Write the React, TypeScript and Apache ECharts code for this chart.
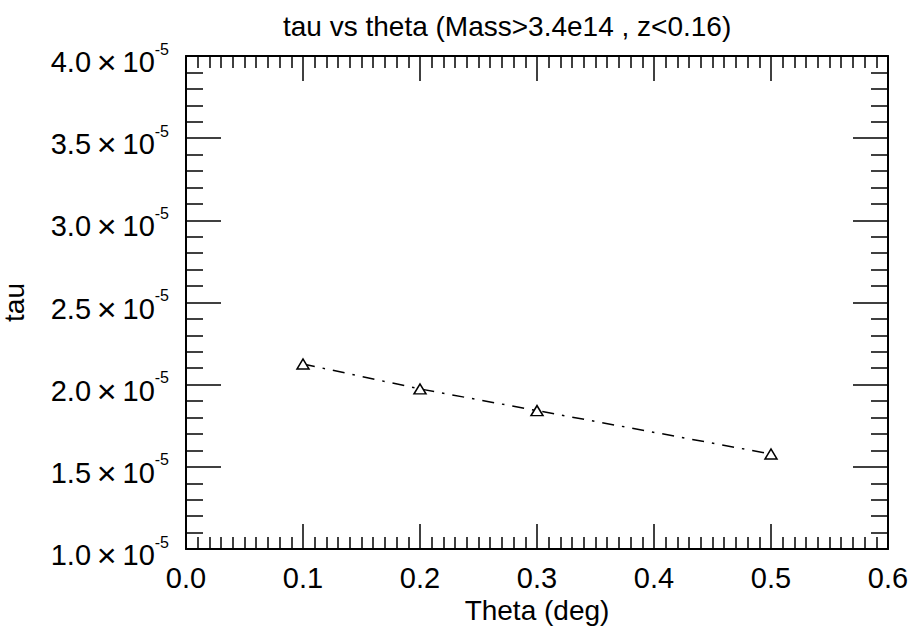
import React, { useEffect, useRef } from "react";
import * as echarts from "echarts";

const thetaValues = [0.1, 0.2, 0.3, 0.5];
const tauValues = [2.126e-5, 1.974e-5, 1.842e-5, 1.578e-5];
const titleText = "tau vs theta (Mass>3.4e14 , z<0.16)";
const xName = "Theta (deg)";
const yName = "tau";

const FONT = "'Liberation Sans', Arial, Helvetica, sans-serif";

export default function App() {
  const ref = useRef<HTMLDivElement>(null);
  useEffect(() => {
    if (!ref.current) return;
    const chart = echarts.init(ref.current, null, { renderer: "svg" });
    const axisLine = { show: true, onZero: false, lineStyle: { color: "#000", width: 2 } };
    const xCommon = {
      type: "value",
      min: 0,
      max: 0.6,
      interval: 0.1,
      axisLine,
      splitLine: { show: false },
      axisTick: { show: true, inside: true, length: 25, lineStyle: { color: "#000", width: 1.5 } },
      minorTick: { show: true, splitNumber: 10, length: 12, lineStyle: { color: "#000", width: 1.5 } },
    };
    const yCommon = {
      type: "value",
      min: 1e-5,
      max: 4e-5,
      interval: 5e-6,
      axisLine,
      splitLine: { show: false },
      axisTick: { show: true, inside: true, length: 35, lineStyle: { color: "#000", width: 1.5 } },
      minorTick: { show: true, splitNumber: 5, length: 17, lineStyle: { color: "#000", width: 1.5 } },
    };
    chart.setOption({
      animation: false,
      backgroundColor: "#fff",
      title: {
        text: titleText,
        left: 278,
        top: 7,
        textStyle: { fontFamily: FONT, fontSize: 28, fontWeight: "normal", color: "#000" },
      },
      grid: { left: 186, right: 24, top: 56, bottom: 78, containLabel: false, outerBoundsMode: "none" },
      xAxis: [
        {
          ...xCommon,
          position: "bottom",
          name: xName,
          nameLocation: "middle",
          nameGap: 37,
          nameTextStyle: { fontFamily: FONT, fontSize: 28, color: "#000" },
          axisLabel: {
            show: true,
            margin: 14,
            color: "#000",
            fontFamily: FONT,
            fontSize: 29,
            formatter: (v: number) => v.toFixed(1),
          },
        },
        { ...xCommon, position: "top", axisLabel: { show: false } },
      ],
      yAxis: [
        {
          ...yCommon,
          position: "left",
          name: yName,
          nameLocation: "middle",
          nameGap: 158,
          nameTextStyle: { fontFamily: FONT, fontSize: 28, color: "#000" },
          axisLabel: {
            show: true,
            margin: 17,
            color: "#000",
            padding: [12, 0, 0, 0],
            formatter: (v: number) => `{a|${(v / 1e-5).toFixed(1)}\u2009}{c|×}{a|\u200910}{b|-5}`,
            rich: {
              a: { fontFamily: FONT, fontSize: 29, lineHeight: 42, color: "#000" },
              c: { fontFamily: FONT, fontSize: 34, lineHeight: 42, color: "#000" },
              b: { fontFamily: FONT, fontSize: 16, lineHeight: 16, verticalAlign: "top", color: "#000" },
            },
          },
        },
        { ...yCommon, position: "right", axisLabel: { show: false } },
      ],
      series: [
        {
          type: "line",
          data: thetaValues.map((t, i) => [t, tauValues[i]]),
          symbol: "triangle",
          symbolSize: [12, 10],
          itemStyle: { color: "#fff", borderColor: "#000", borderWidth: 1.5 },
          lineStyle: { color: "#000", width: 1.5, type: [12, 8, 2.5, 8] },
          z: 3,
        },
      ],
    });
    return () => chart.dispose();
  }, []);
  return <div ref={ref} style={{ position: "fixed", left: 0, top: 0, width: 912, height: 627 }} />;
}
